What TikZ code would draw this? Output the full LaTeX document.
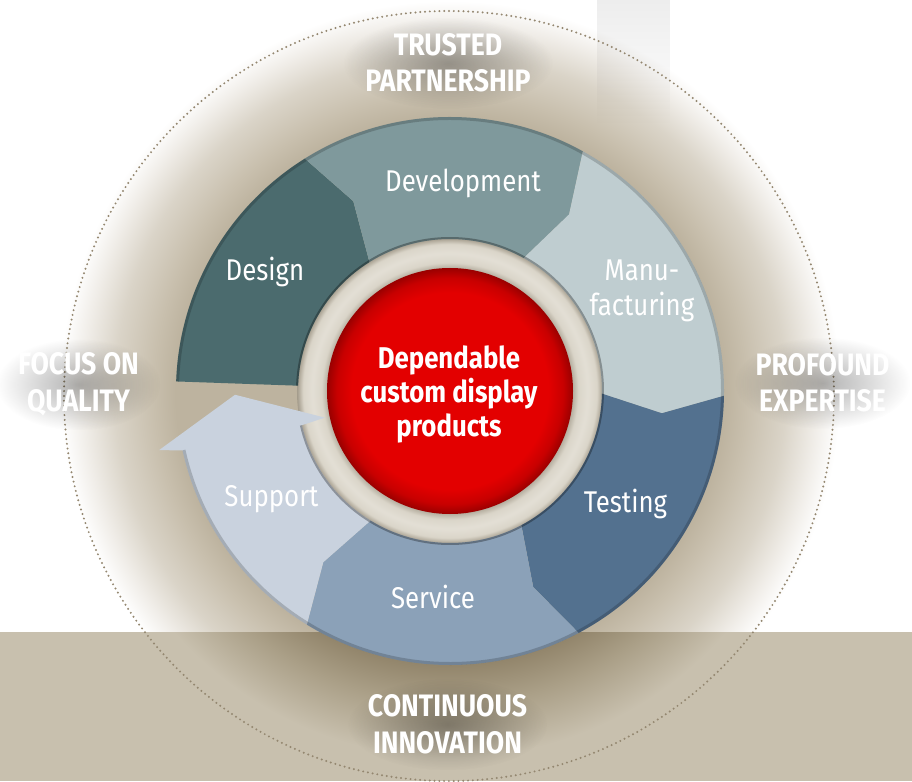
\documentclass[tikz,border=0pt]{standalone}
\usepackage{fontspec}
\usetikzlibrary{fadings}
\newfontfamily\condfont[FakeStretch=0.86]{Fira Sans}

\definecolor{designC}{HTML}{4B6B6E}
\definecolor{devC}{HTML}{7F999C}
\definecolor{manC}{HTML}{BFCDD0}
\definecolor{testC}{HTML}{53718F}
\definecolor{servC}{HTML}{8BA1B8}
\definecolor{suppC}{HTML}{C9D2DE}
\definecolor{ballC}{HTML}{E30000}
\definecolor{ballM}{HTML}{C80000}
\definecolor{ballD}{HTML}{9A0000}
\definecolor{haloC}{HTML}{BDB39F}
\definecolor{haloB}{HTML}{C8BFAD}
\definecolor{haloL}{HTML}{DAD4C8}
\definecolor{haloXL}{HTML}{F0EDE8}
\definecolor{bandC}{HTML}{C8C0AE}
\definecolor{bandM}{HTML}{AA9F87}
\definecolor{bandD}{HTML}{93866C}
\definecolor{dotC}{HTML}{948770}
\definecolor{gapC}{HTML}{DAD5C9}
\definecolor{gapL}{HTML}{E3DFD5}
\definecolor{gapD}{HTML}{A39B8B}

\pgfdeclareradialshading{halo}{\pgfpoint{0bp}{0bp}}{color(0bp)=(haloC); color(17.6bp)=(haloC); color(19bp)=(haloB); color(21.5bp)=(haloL); color(23.5bp)=(haloXL); color(25bp)=(white); color(50bp)=(white)}
\pgfdeclareradialshading{bandhalo}{\pgfpoint{0bp}{0bp}}{color(0bp)=(bandD); color(17.6bp)=(bandD); color(20bp)=(bandM); color(23.5bp)=(bandC); color(25bp)=(bandC); color(50bp)=(bandC)}
\pgfdeclareradialshading{gapring}{\pgfpoint{0bp}{0bp}}{color(0bp)=(gapD); color(19.6bp)=(gapD); color(21bp)=(gapC); color(22.5bp)=(gapL); color(24bp)=(gapC); color(25bp)=(gapD); color(50bp)=(gapD)}
\pgfdeclareradialshading{redball}{\pgfpoint{0bp}{0bp}}{color(0bp)=(ballC); color(20bp)=(ballC); color(23bp)=(ballM); color(25bp)=(ballD); color(50bp)=(ballD)}
\tikzfading[name=glow, inner color=transparent!0, outer color=transparent!100]

% white caption on a soft dark glow
\newcommand\valuelabel[4]{%
  \fill[black, fill opacity=.3, path fading=glow] (#2) ellipse[x radius=#3, y radius=46];
  \node[valuetext] (#1) at (#2) {#4};}

\begin{document}
\begin{tikzpicture}[x=1pt, y=1pt,
    segtext/.style={text=white, font=\condfont\fontsize{30}{35}\selectfont, align=center, inner sep=0pt},
    hubtext/.style={text=white, font=\condfont\bfseries\fontsize{30}{34}\selectfont, align=center, inner sep=0pt},
    valuetext/.style={text=white, font=\condfont\bfseries\fontsize{31}{36.5}\selectfont, align=center, inner sep=0pt}]

    \def\Ro{274}
    \def\Ri{152}
    \def\Rm{213}

    \useasboundingbox (-450,-390) rectangle (462,391);
    \fill[white] (-450,-390) rectangle (462,391);
    \shade[shading=halo] (0,0) circle[radius=390];
    % light strip, top right
    \fill[black, fill opacity=.07, path fading=south] (147,391) rectangle (220,265);

    % floor band
    \fill[bandC] (-450,-390) rectangle (462,-241);
    \begin{scope}
        \clip (-450,-390) rectangle (462,-241);
        \shade[shading=bandhalo] (0,0) circle[radius=390];
    \end{scope}
    \draw[dotC, line width=2.2pt, line cap=round, dash pattern=on 0pt off 4.8pt] (-1,-5) circle[radius=385];

    % gap round the hub
    \shade[shading=gapring] (0,0) circle[radius=153];

    % ring
    \fill[designC] (178:\Ro) arc[start angle=178, end angle=122, radius=\Ro] -- (117:\Rm)
        -- (122:\Ri) arc[start angle=122, end angle=178, radius=\Ri] -- cycle;
    \foreach \s/\e/\c in {122/61/devC, 61/-1/manC, -1/-62/testC, -62/-121.5/servC}
        \fill[\c] (\s:\Ro) arc[start angle=\s, end angle=\e, radius=\Ro] -- (\e-5:\Rm)
            -- (\e:\Ri) arc[start angle=\e, end angle=\s, radius=\Ri] -- (\s-5:\Rm) -- cycle;
    \fill[suppC] (-121.5:\Ro) arc[start angle=-121.5, end angle=-167.5, radius=\Ro]
        -- (-168.5:297) -- (-179:215) -- (-168:128) -- (-167:\Ri)
        arc[start angle=-167, end angle=-121.5, radius=\Ri] -- (-126.5:\Rm) -- cycle;
    \draw[black, opacity=.18, line width=3pt] (178:272.5) arc[start angle=178, end angle=-167.5, radius=272.5];
    \draw[black, opacity=.3, line width=2pt] (178:153) arc[start angle=178, end angle=-167, radius=153];

    % hub
    \shade[shading=redball] (0,0) circle[radius=123];
    \node[hubtext] (hub) at (-1,-3) {Dependable\\custom display\\products};

    \node[segtext] (design) at (-185,119.5) {Design};
    \node[segtext] (development) at (13,208) {Development};
    \node[segtext] (manufacturing) at (192,100) {Manu-\\facturing};
    \node[segtext] (testing) at (175.5,-112.5) {Testing};
    \node[segtext] (service) at (-17,-205.5) {Service};
    \node[segtext] (support) at (-178.5,-108.5) {Support};

    \valuelabel{partnership}{-2,328}{105}{TRUSTED\\PARTNERSHIP}
    \valuelabel{quality}{-371.5,6.5}{82}{FOCUS ON\\QUALITY}
    \valuelabel{expertise}{372.5,8}{88}{PROFOUND\\EXPERTISE}
    \valuelabel{innovation}{-2.5,-333.5}{100}{CONTINUOUS\\INNOVATION}
\end{tikzpicture}
\end{document}
